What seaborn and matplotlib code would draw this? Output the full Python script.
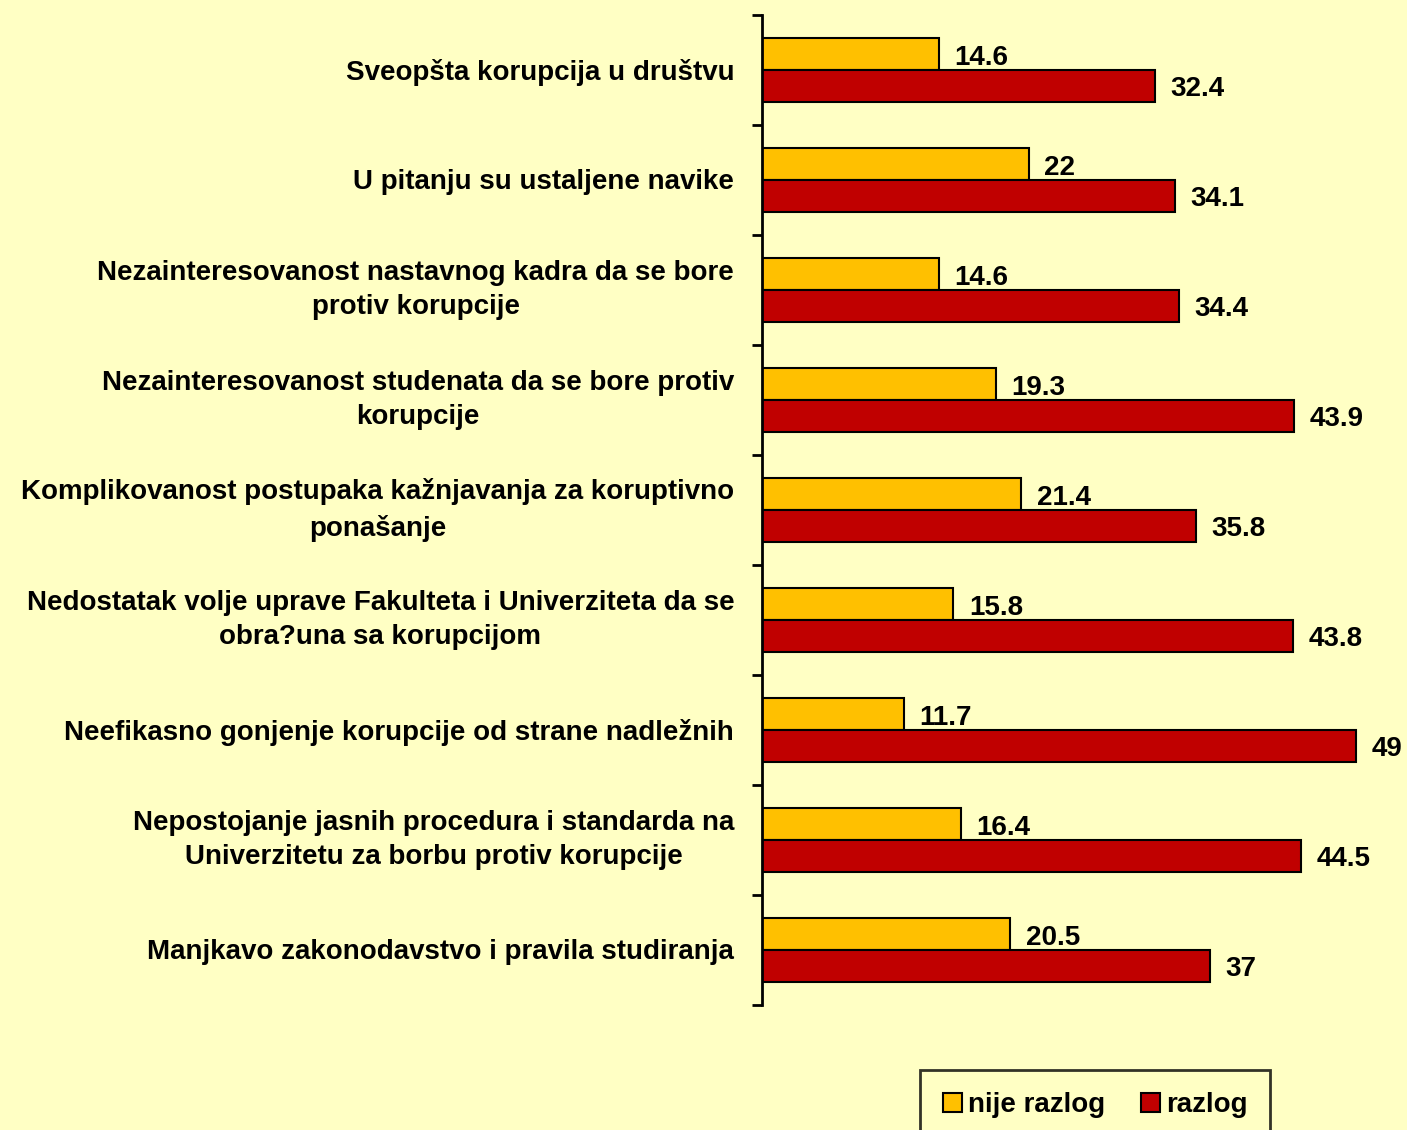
import matplotlib
matplotlib.use("Agg")
import matplotlib.pyplot as plt
import seaborn as sns
import pandas as pd

categories = [
    "Sveopšta korupcija u društvu",
    "U pitanju su ustaljene navike",
    "Nezainteresovanost nastavnog kadra da se bore\nprotiv korupcije",
    "Nezainteresovanost studenata da se bore protiv\nkorupcije",
    "Komplikovanost postupaka kažnjavanja za koruptivno\nponašanje",
    "Nedostatak volje uprave Fakulteta i Univerziteta da se\nobra?una sa korupcijom",
    "Neefikasno gonjenje korupcije od strane nadležnih",
    "Nepostojanje jasnih procedura i standarda na\nUniverzitetu za borbu protiv korupcije",
    "Manjkavo zakonodavstvo i pravila studiranja",
]
nije_razlog = [14.6, 22, 14.6, 19.3, 21.4, 15.8, 11.7, 16.4, 20.5]
razlog = [32.4, 34.1, 34.4, 43.9, 35.8, 43.8, 49, 44.5, 37]
series = ["nije razlog", "razlog"]
colors = ["#FFC000", "#C00000"]
bg = "#FFFFC4"
fs = 20

df = pd.DataFrame({
    "kategorija": categories * 2,
    "vrednost": nije_razlog + razlog,
    "serija": [series[0]] * len(categories) + [series[1]] * len(categories),
})

sns.set_theme(style="white")
plt.rcParams["font.family"] = ["Liberation Sans", "DejaVu Sans"]
plt.rcParams["font.weight"] = "bold"
plt.rcParams["text.color"] = "black"
plt.rcParams["ytick.color"] = "black"

fig = plt.figure(figsize=(14.07, 11.30), dpi=100, facecolor=bg)
ax = fig.add_axes([762 / 1407, 125 / 1130, (1407 - 762) / 1407, (1005 - 15) / 1130])
ax.set_facecolor(bg)

sns.barplot(data=df, x="vrednost", y="kategorija", hue="serija", orient="h",
            palette=colors, width=0.58, edgecolor="black", linewidth=1.5,
            saturation=1, ax=ax, legend=False)

ax.set_xlim(0, (1407 - 762) / 12.12)
ax.set_ylim(len(categories) - 0.5, -0.5)
ax.set_xlabel("")
ax.set_ylabel("")
ax.set_xticks([])

# category names, centred lines, right edge next to the axis
ax.set_yticks([])
for i, name in enumerate(categories):
    dy = 0 if "\n" in name else -1.5
    ax.annotate(name, xy=(0, i), xycoords=ax.get_yaxis_transform(),
                xytext=(-20, dy), textcoords="offset points",
                ha="right", va="center", multialignment="center",
                linespacing=1.45, fontsize=fs, fontweight="bold", color="black",
                annotation_clip=False)

# tick marks at category boundaries
ax.set_yticks([i - 0.5 for i in range(len(categories) + 1)], minor=True)
ax.tick_params(axis="y", which="minor", length=7, width=2, color="black", left=True)

for side in ["top", "right", "bottom"]:
    ax.spines[side].set_visible(False)
ax.spines["left"].set_linewidth(2)
ax.spines["left"].set_color("black")

for cont in ax.containers:
    texts = ax.bar_label(cont, labels=[f"{v:g}" for v in cont.datavalues],
                         padding=11, fontsize=fs, fontweight="bold", color="black")
    for t in texts:
        t.xyann = (t.xyann[0], -2.5)

handles = [plt.Rectangle((0, 0), 1, 1, facecolor=c, edgecolor="black", linewidth=1.5)
           for c in colors]
leg = fig.legend(handles, series, loc="upper center",
                 bbox_to_anchor=(1095 / 1407, (1130 - 1070) / 1130), ncol=2,
                 fontsize=fs, frameon=True, fancybox=False, handlelength=0.7,
                 handleheight=0.7, handletextpad=0.2, columnspacing=1.3,
                 borderpad=0.8, borderaxespad=0)
leg.get_frame().set_edgecolor("black")
leg.get_frame().set_linewidth(2)
leg.get_frame().set_facecolor(bg)

fig.savefig("out.png", dpi=100, facecolor=bg)
